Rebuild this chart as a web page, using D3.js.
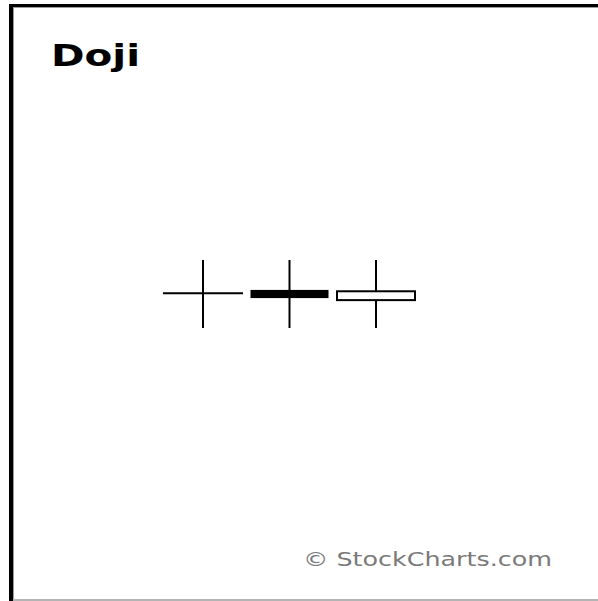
<!DOCTYPE html>
<html>
<head>
<meta charset="utf-8">
<script src="https://cdn.jsdelivr.net/npm/d3@7"></script>
<style>
  body { margin: 0; background: #fff; }
  svg { display: block; }
</style>
</head>
<body>
<div id="chart"></div>
<script>
// Three doji-style candles (open ~ close)
const candles = ["doji", "black", "white"];
const highs = [10, 10, 10];
const lows = [0, 0, 0];
const opens = [5.1, 5.6, 4.1];
const closes = [5.1, 4.4, 5.4];

const width = 598;
const height = 601;

const svg = d3.select("#chart")
    .append("svg")
    .attr("width", width)
    .attr("height", height);

svg.append("rect")
    .attr("width", width)
    .attr("height", height)
    .attr("fill", "#fff");

// frame: heavy black top/left, thin grey inner edge, grey bottom
svg.append("rect").attr("x", 9).attr("y", 4).attr("width", 4).attr("height", 597).attr("fill", "#000");
svg.append("rect").attr("x", 9).attr("y", 4).attr("width", 589).attr("height", 3).attr("fill", "#000");
svg.append("rect").attr("x", 13).attr("y", 7).attr("width", 1).attr("height", 594).attr("fill", "#9a9a9a");
svg.append("rect").attr("x", 13).attr("y", 7).attr("width", 585).attr("height", 1).attr("fill", "#9a9a9a");
svg.append("rect").attr("x", 13).attr("y", 599).attr("width", 585).attr("height", 2).attr("fill", "#b4b4b4");

// title
svg.append("text")
    .attr("x", 51)
    .attr("y", 66)
    .attr("font-family", "DejaVu Sans, Verdana, sans-serif")
    .attr("font-weight", "bold")
    .attr("font-size", "30px")
    .attr("textLength", 89)
    .attr("lengthAdjust", "spacingAndGlyphs")
    .attr("fill", "#000")
    .text("Doji");

const x = d3.scalePoint()
    .domain(candles)
    .range([203, 376]);

const y = d3.scaleLinear()
    .domain([0, 10])
    .range([328, 260]);

const bodyW = 78;

const data = candles.map((c, i) => ({
    name: c, high: highs[i], low: lows[i], open: opens[i], close: closes[i]
}));

const g = svg.append("g");

// wicks
g.selectAll(".wick")
    .data(data)
    .enter().append("line")
    .attr("class", "wick")
    .attr("x1", d => x(d.name))
    .attr("x2", d => x(d.name))
    .attr("y1", d => y(d.high))
    .attr("y2", d => y(d.low))
    .attr("stroke", "#000")
    .attr("stroke-width", 2);

// bodies
data.forEach(d => {
    if (d.open === d.close) {
        g.append("line")
            .attr("x1", x(d.name) - bodyW / 2 - 1)
            .attr("x2", x(d.name) + bodyW / 2 + 1)
            .attr("y1", y(d.open))
            .attr("y2", y(d.open))
            .attr("stroke", "#000")
            .attr("stroke-width", 2);
    } else {
        const top = y(Math.max(d.open, d.close));
        const bot = y(Math.min(d.open, d.close));
        const bearish = d.close < d.open;
        g.append("rect")
            .attr("x", x(d.name) - bodyW / 2)
            .attr("y", top)
            .attr("width", bodyW)
            .attr("height", bot - top)
            .attr("fill", bearish ? "#000" : "#fff")
            .attr("stroke", "#000")
            .attr("stroke-width", bearish ? 0 : 2);
    }
});

// copyright
svg.append("text")
    .attr("x", 303)
    .attr("y", 566)
    .attr("font-family", "DejaVu Sans, Verdana, sans-serif")
    .attr("font-size", "20px")
    .attr("textLength", 249)
    .attr("lengthAdjust", "spacingAndGlyphs")
    .attr("fill", "#7a7a7a")
    .text("© StockCharts.com");
</script>
</body>
</html>
